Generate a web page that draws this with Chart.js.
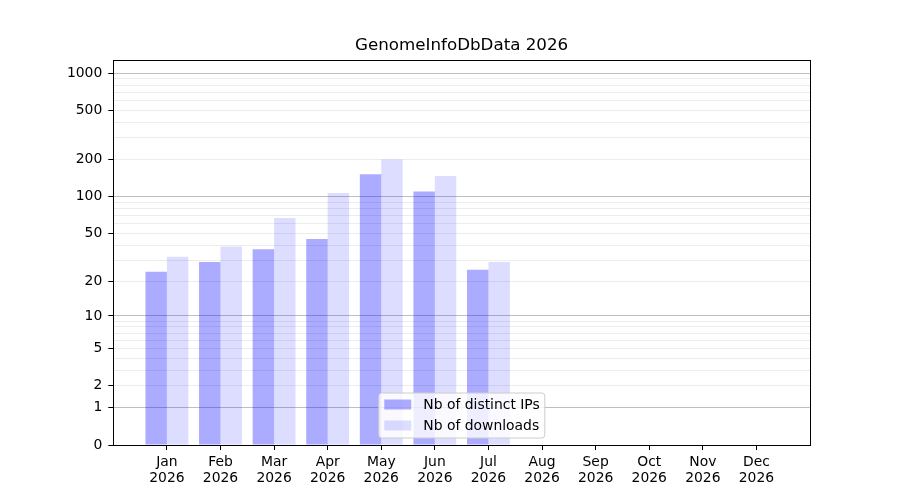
<!DOCTYPE html>
<html>
<head>
<meta charset="utf-8">
<script src="https://cdn.jsdelivr.net/npm/chart.js@4/dist/chart.umd.min.js"></script>
<style>
  html, body { margin: 0; padding: 0; background: #fff; }
  #wrap { width: 900px; height: 500px; }
</style>
</head>
<body>
<div id="wrap"><canvas id="chart" width="900" height="500"></canvas></div>
<script>
'use strict';

const months = ['Jan', 'Feb', 'Mar', 'Apr', 'May', 'Jun', 'Jul', 'Aug', 'Sep', 'Oct', 'Nov', 'Dec'];
const year = '2026';
const distinctIps = [24, 29, 37, 45, 152, 110, 25, 0, 0, 0, 0, 0];
const downloads = [32, 39, 67, 107, 200, 147, 29, 0, 0, 0, 0, 0];
const yTickLabels = [0, 1, 2, 5, 10, 20, 50, 100, 200, 500, 1000];
const yMajorGrid = [1, 10, 100, 1000];
const yMinorTicks = [3, 4, 6, 7, 8, 9, 30, 40, 60, 70, 80, 90, 300, 400, 600, 700, 800, 900];
const title = 'GenomeInfoDbData ' + year;

// the y axis is log10(count + 1), so zero sits at the bottom
const toAxis = v => Math.log10(v + 1);
const fromAxis = a => Math.round(Math.pow(10, a) - 1);

const FONT = "'DejaVu Sans', sans-serif";

function points(values) {
    return values.map((v, i) => ({ x: i, y: toAxis(v) }));
}

// box around the plot, like matplotlib spines, and the title centred over the plot
const frame = {
    id: 'frame',
    afterDraw(chart) {
        const c = chart.ctx, a = chart.chartArea;
        c.save();
        c.strokeStyle = '#000';
        c.lineWidth = 1;
        c.strokeRect(Math.round(a.left) + 0.5, Math.round(a.top) + 0.5,
            Math.round(a.right - a.left), Math.round(a.bottom - a.top));
        c.fillStyle = '#000';
        c.font = '16.7px ' + FONT;
        c.textAlign = 'center';
        c.textBaseline = 'alphabetic';
        c.fillText(title, (a.left + a.right) / 2, a.top - 10);
        c.restore();
    }
};

// legend box inside the plot area
const boxLegend = {
    id: 'boxLegend',
    afterDraw(chart) {
        const c = chart.ctx, a = chart.chartArea;
        const x = a.left + 265, y = a.bottom - 52.5, w = 166, h = 45;
        c.save();
        c.beginPath();
        c.roundRect(x + 0.5, y + 0.5, w, h, 3);
        c.fillStyle = 'rgba(255,255,255,0.8)';
        c.fill();
        c.strokeStyle = '#cccccc';
        c.lineWidth = 1;
        c.stroke();
        c.font = '13.9px ' + FONT;
        c.textBaseline = 'middle';
        chart.data.datasets.forEach((ds, i) => {
            const ry = y + 7 + i * 21;
            c.fillStyle = ds.backgroundColor;
            c.fillRect(x + 6, ry, 27, 10);
            c.fillStyle = '#000';
            c.fillText(ds.label, x + 45, ry + 5.5);
        });
        c.restore();
    }
};

new Chart(document.getElementById('chart'), {
    type: 'bar',
    data: {
        datasets: [{
            label: 'Nb of distinct IPs',
            data: points(distinctIps),
            backgroundColor: 'rgba(0,0,255,0.33)',
            borderWidth: 0
        }, {
            label: 'Nb of downloads',
            data: points(downloads),
            backgroundColor: 'rgba(0,0,255,0.135)',
            borderWidth: 0
        }]
    },
    options: {
        responsive: false,
        animation: false,
        devicePixelRatio: 1,
        categoryPercentage: 0.8,
        barPercentage: 1.0,
        layout: { padding: { left: 0, right: 90, top: 60, bottom: 0 } },
        plugins: {
            legend: { display: false },
            tooltip: { enabled: false },
            title: { display: false }
        },
        scales: {
            x: {
                type: 'linear',
                min: -1,
                max: 12,
                offset: false,
                afterBuildTicks(scale) {
                    scale.ticks = months.map((m, i) => ({ value: i }));
                },
                afterFit(scale) { scale.height = 55; },
                border: { display: false },
                grid: { offset: false, drawOnChartArea: false, drawTicks: true, tickLength: 5, color: '#000', tickWidth: 1 },
                ticks: {
                    color: '#000',
                    padding: 4,
                    maxRotation: 0,
                    autoSkip: false,
                    font: { family: FONT, size: 13.9, lineHeight: 1.15 },
                    callback: v => [months[v], year]
                }
            },
            y: {
                type: 'linear',
                min: 0,
                max: 3.107,
                z: 1,
                afterBuildTicks(scale) {
                    const vals = yTickLabels.concat(yMinorTicks).sort((p, q) => p - q);
                    scale.ticks = vals.map(v => ({ value: toAxis(v) }));
                },
                afterFit(scale) { scale.width = 113.3; },
                border: { display: false },
                grid: {
                    drawTicks: true,
                    tickLength: 5,
                    lineWidth: 1,
                    color(ctx) {
                        const v = fromAxis(ctx.tick.value);
                        if (v === 0) return 'rgba(0,0,0,0)';
                        if (yMajorGrid.includes(v)) return 'rgba(128,128,128,0.5)';
                        return 'rgba(128,128,128,0.15)';
                    },
                    tickColor(ctx) {
                        const v = fromAxis(ctx.tick.value);
                        return yTickLabels.includes(v) ? '#000' : 'rgba(0,0,0,0)';
                    }
                },
                ticks: {
                    color: '#000',
                    padding: 6,
                    autoSkip: false,
                    font: { family: FONT, size: 13.9 },
                    callback(value) {
                        const v = fromAxis(value);
                        return yTickLabels.includes(v) ? String(v) : '';
                    }
                }
            }
        }
    },
    plugins: [frame, boxLegend]
});
</script>
</body>
</html>
